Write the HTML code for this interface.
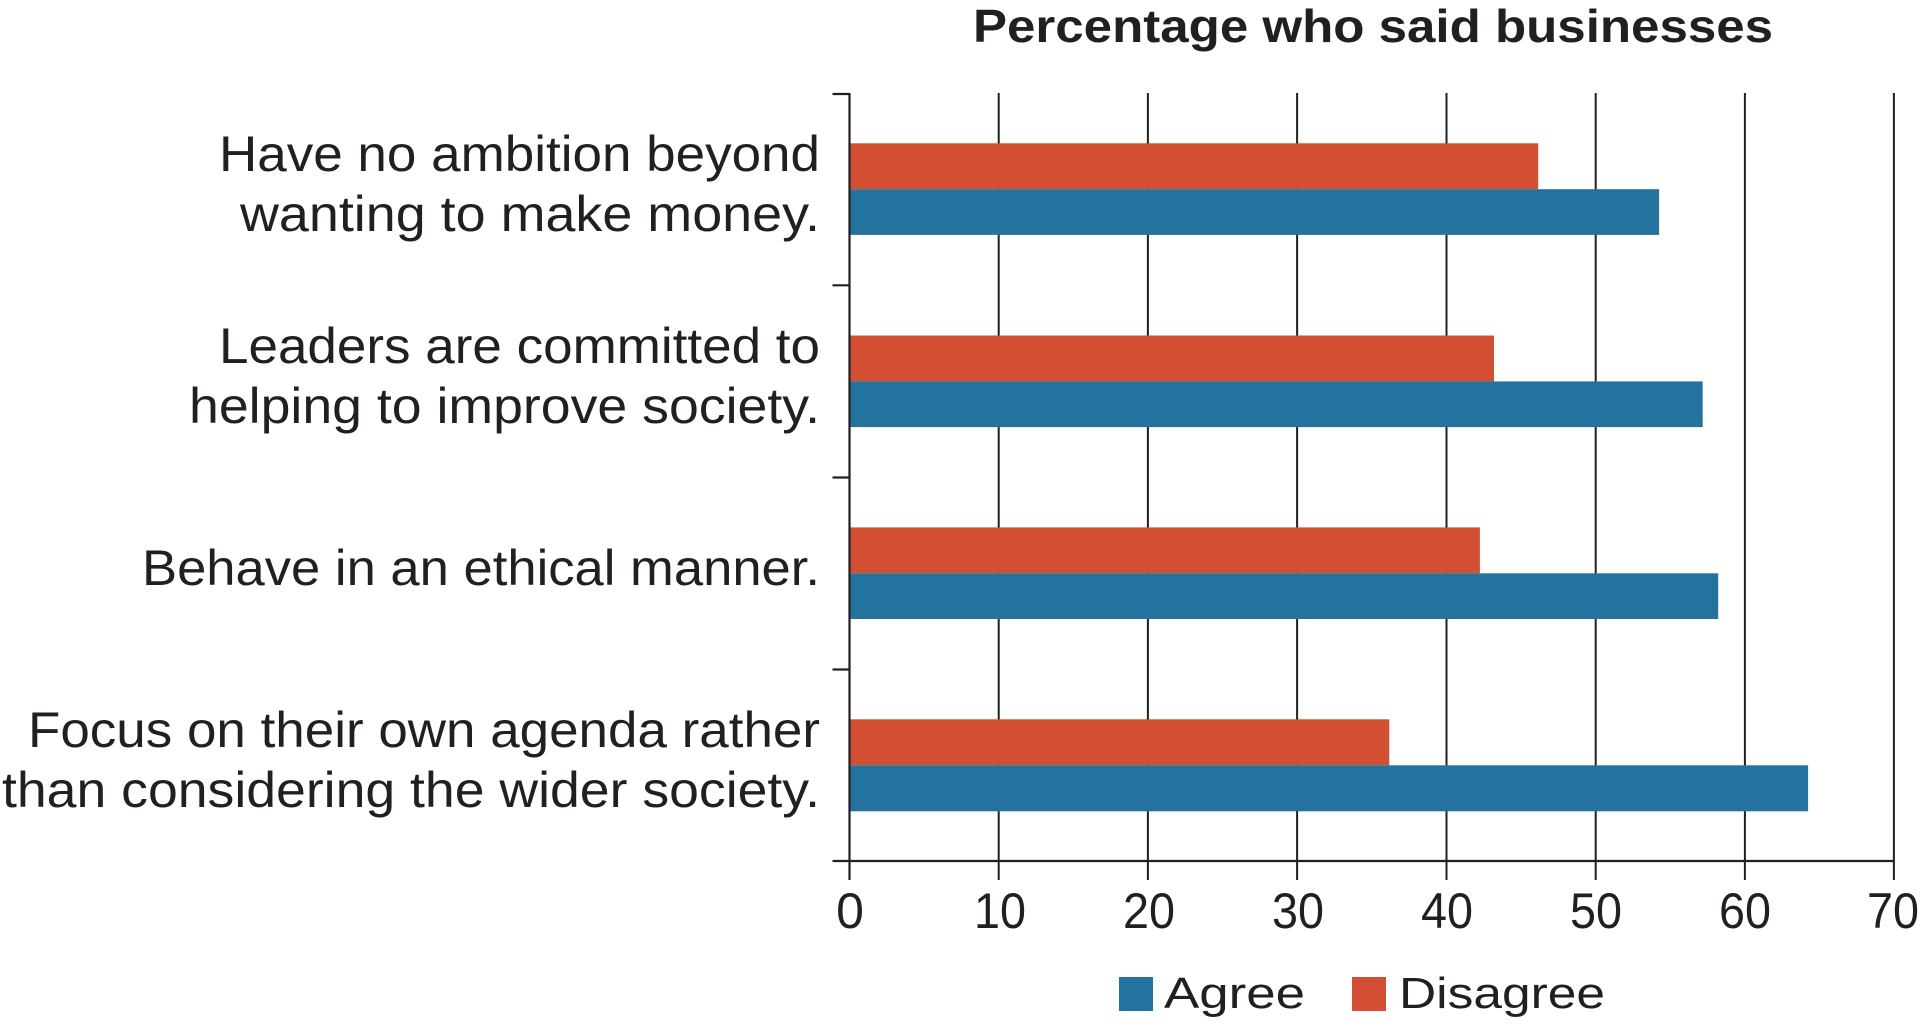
<!DOCTYPE html>
<html>
<head>
<meta charset="utf-8">
<style>
  html, body { margin:0; padding:0; background:#ffffff; }
  body { width:1922px; height:1030px; overflow:hidden; }
  svg { display:block; }
  text { font-family: "Liberation Sans", "DejaVu Sans", sans-serif; fill:#231f20; }
</style>
</head>
<body>
<svg width="1922" height="1030" viewBox="0 0 1922 1030" xmlns="http://www.w3.org/2000/svg">
  <!-- Title -->
  <text x="973" y="42" font-size="46" font-weight="bold" textLength="800" lengthAdjust="spacingAndGlyphs">Percentage who said businesses</text>

  <!-- Gridlines -->
  <g stroke="#231f20" stroke-width="2">
    <line x1="998.7" y1="93" x2="998.7" y2="880"/>
    <line x1="1147.9" y1="93" x2="1147.9" y2="880"/>
    <line x1="1297.1" y1="93" x2="1297.1" y2="880"/>
    <line x1="1446.5" y1="93" x2="1446.5" y2="880"/>
    <line x1="1595.7" y1="93" x2="1595.7" y2="880"/>
    <line x1="1744.9" y1="93" x2="1744.9" y2="880"/>
    <line x1="1893.9" y1="93" x2="1893.9" y2="880"/>
  </g>

  <!-- Bars: category 1 -->
  <rect x="850" y="143.3" width="688.2" height="45.9" fill="#d34f33"/>
  <rect x="850" y="189.2" width="809.1" height="45.7" fill="#24739e"/>
  <!-- category 2 -->
  <rect x="850" y="335.5" width="644" height="45.9" fill="#d34f33"/>
  <rect x="850" y="381.4" width="852.7" height="45.7" fill="#24739e"/>
  <!-- category 3 -->
  <rect x="850" y="527.4" width="629.9" height="45.9" fill="#d34f33"/>
  <rect x="850" y="573.3" width="868.2" height="45.7" fill="#24739e"/>
  <!-- category 4 -->
  <rect x="850" y="719.3" width="539.3" height="46" fill="#d34f33"/>
  <rect x="850" y="765.3" width="958.1" height="46" fill="#24739e"/>

  <!-- Axes -->
  <g stroke="#231f20" stroke-width="2.2">
    <line x1="849.5" y1="93" x2="849.5" y2="880"/>
    <line x1="832.5" y1="861" x2="1894.5" y2="861"/>
    <!-- y ticks -->
    <line x1="832.5" y1="94" x2="849.5" y2="94"/>
    <line x1="832.5" y1="285.3" x2="849.5" y2="285.3"/>
    <line x1="832.5" y1="477.5" x2="849.5" y2="477.5"/>
    <line x1="832.5" y1="669.5" x2="849.5" y2="669.5"/>
  </g>

  <!-- X tick labels -->
  <g font-size="50" text-anchor="middle">
    <text x="850" y="928">0</text>
    <text x="1000" y="928" textLength="52" lengthAdjust="spacingAndGlyphs">10</text>
    <text x="1149" y="928" textLength="52" lengthAdjust="spacingAndGlyphs">20</text>
    <text x="1298" y="928" textLength="52" lengthAdjust="spacingAndGlyphs">30</text>
    <text x="1447" y="928" textLength="52" lengthAdjust="spacingAndGlyphs">40</text>
    <text x="1596" y="928" textLength="52" lengthAdjust="spacingAndGlyphs">50</text>
    <text x="1745" y="928" textLength="52" lengthAdjust="spacingAndGlyphs">60</text>
    <text x="1893" y="928" textLength="52" lengthAdjust="spacingAndGlyphs">70</text>
  </g>

  <!-- Category labels -->
  <g font-size="50">
    <text x="219" y="171" textLength="601" lengthAdjust="spacingAndGlyphs">Have no ambition beyond</text>
    <text x="240" y="231" textLength="580" lengthAdjust="spacingAndGlyphs">wanting to make money.</text>
    <text x="219" y="363" textLength="601" lengthAdjust="spacingAndGlyphs">Leaders are committed to</text>
    <text x="189" y="423" textLength="631" lengthAdjust="spacingAndGlyphs">helping to improve society.</text>
    <text x="142" y="585" textLength="678" lengthAdjust="spacingAndGlyphs">Behave in an ethical manner.</text>
    <text x="28" y="747" textLength="792" lengthAdjust="spacingAndGlyphs">Focus on their own agenda rather</text>
    <text x="2" y="807" textLength="818" lengthAdjust="spacingAndGlyphs">than considering the wider society.</text>
  </g>

  <!-- Legend -->
  <rect x="1119" y="977" width="34" height="34" fill="#24739e"/>
  <text x="1164" y="1008" font-size="44" textLength="141" lengthAdjust="spacingAndGlyphs">Agree</text>
  <rect x="1352" y="977" width="34" height="34" fill="#d34f33"/>
  <text x="1399" y="1008" font-size="44" textLength="206" lengthAdjust="spacingAndGlyphs">Disagree</text>
</svg>
</body>
</html>
